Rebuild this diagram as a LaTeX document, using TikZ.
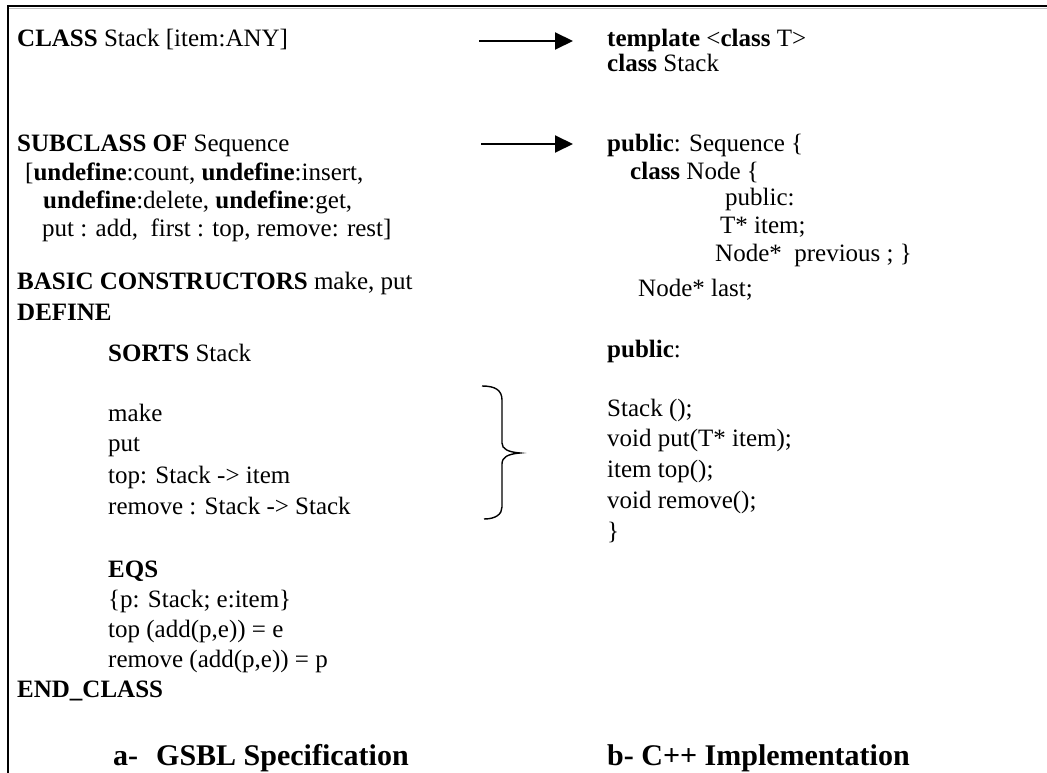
\documentclass[tikz,border=0pt]{standalone}
\usepackage{fontspec}
\setmainfont{Liberation Serif}
\usetikzlibrary{arrows.meta}

\tikzset{
  txt/.style={anchor=base west, inner sep=0pt, font=\fontsize{25}{30}\selectfont},
  ttl/.style={anchor=base west, inner sep=0pt, font=\fontsize{30}{36}\selectfont\bfseries},
  maparrow/.style={line width=2pt, -{Triangle[length=18pt,width=17pt]}},
  frameline/.style={line width=2.5pt, line cap=rect},
}

\begin{document}
\begin{tikzpicture}[x=1pt, y=-1pt]
\useasboundingbox (0,0) rectangle (1047,773);

% frame (top and left rules)
\draw[gray!50, line width=1pt] (9,8.6) -- (1047,8.6);
\draw[frameline] (8.3,6.2) -- (1047,6.2);
\draw[line width=2pt] (8.3,6.2) -- (8.3,773);

% ---- left column: GSBL specification ----
\node[txt] (l1)  at (17,47)  {\textbf{CLASS} Stack [item:ANY]};
\node[txt] (l2)  at (17,152) {\textbf{SUBCLASS OF} Sequence};
\node[txt] (l3)  at (25,181) {[\textbf{undefine}:count, \textbf{undefine}:insert,};
\node[txt] (l4)  at (43,208) {\textbf{undefine}:delete, \textbf{undefine}:get,};
\node[txt] (l5)  at (42,236) {put : add,\ \ first : top, remove: rest]};
\node[txt] (l6)  at (17,289) {\textbf{BASIC CONSTRUCTORS} make, put};
\node[txt] (l7)  at (17,320) {\textbf{DEFINE}};
\node[txt] (l8)  at (108,361) {\textbf{SORTS} Stack};
\node[txt] (l9)  at (108,421) {make};
\node[txt] (l10) at (108,451) {put};
\node[txt] (l11) at (108,483) {top: Stack -> item};
\node[txt] (l12) at (108,514) {remove : Stack -> Stack};
\node[txt] (l13) at (108,577) {\textbf{EQS}};
\node[txt] (l14) at (108,607) {\{p: Stack; e:item\}};
\node[txt] (l15) at (108,637) {top (add(p,e)) = e};
\node[txt] (l16) at (108,667) {remove (add(p,e)) = p};
\node[txt] (l17) at (17,697) {\textbf{END\_CLASS}};
\node[ttl] (capA) at (113,765) {a-\hspace{18pt}GSBL Specification};

% ---- right column: C++ implementation ----
\node[txt] (r1)  at (607,47)  {\textbf{template} <\textbf{class} T>};
\node[txt] (r2)  at (607,72)  {\textbf{class} Stack};
\node[txt] (r3)  at (607,152) {\textbf{public}: Sequence \{};
\node[txt] (r4)  at (630,179) {\textbf{class} Node \{};
\node[txt] (r5)  at (725,205) {public:};
\node[txt] (r6)  at (720,233) {T* item;};
\node[txt] (r7)  at (715,261) {Node*\ \ previous ; \}};
\node[txt] (r8)  at (638,296) {Node* last;};
\node[txt] (r9)  at (607,357) {\textbf{public}:};
\node[txt] (r10) at (607,416) {Stack ();};
\node[txt] (r11) at (607,446) {void put(T* item);};
\node[txt] (r12) at (607,477) {item top();};
\node[txt] (r13) at (607,508) {void remove();};
\node[txt] (r14) at (607,539) {\}};
\node[ttl] (capB) at (607,765) {b- C++ Implementation};

% ---- mapping arrows ----
\coordinate (a1s) at (479,41);
\coordinate (a1e) at (573,41);
\coordinate (a2s) at (481,144);
\coordinate (a2e) at (573,144);
\draw[maparrow] (a1s) -- (a1e);
\draw[maparrow] (a2s) -- (a2e);

% ---- brace grouping the operations ----
\draw[line width=1.4pt]
  (482,386) .. controls (495,386) and (502,390) .. (502,400)
  -- (502,443) .. controls (502,449) and (508,452) .. (520,453)
  .. controls (508,454) and (502,457) .. (502,464)
  -- (502,507) .. controls (502,514) and (496,519) .. (484,519);
\end{tikzpicture}
\end{document}
